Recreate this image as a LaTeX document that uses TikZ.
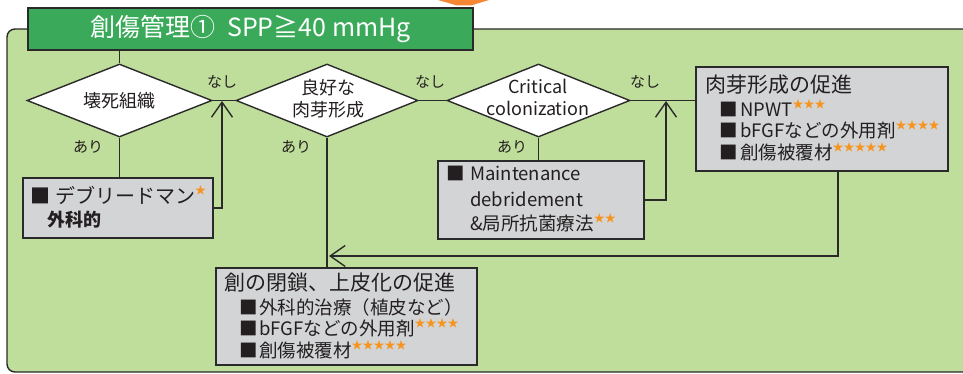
\documentclass[tikz,border=0pt]{standalone}
\usepackage{fontspec}
\setmainfont{Noto Sans CJK JP}
\usetikzlibrary{shapes.geometric,arrows.meta}
\definecolor{panelg}{HTML}{BFDD9B}
\definecolor{titleg}{HTML}{3AAA5A}
\definecolor{boxg}{HTML}{D3D4D6}
\definecolor{linec}{HTML}{2A2A2A}
\definecolor{txt}{HTML}{231F20}
\definecolor{starc}{HTML}{F7941D}
\definecolor{topor}{HTML}{F58634}
\newcommand\mystars[1]{\raisebox{0.45em}{\fontsize{11}{11}\selectfont\color{starc}#1}}
\newcommand\sq[1]{\makebox[#1][l]{■}}
\begin{document}
\begin{tikzpicture}[x=1pt,y=-1pt,
  lbl/.style={font=\fontsize{15}{15}\selectfont, text=txt, inner sep=0},
  dia/.style={diamond, draw=linec, fill=white, line width=1.4pt, inner sep=0},
  dtext/.style={inner sep=0, align=center, font=\fontsize{18}{22}\selectfont, text=txt},
  box/.style={draw=linec, fill=boxg, line width=1.4pt, inner sep=0},
  conn/.style={draw=linec, line width=1.4pt},
  arr/.style={conn, -{Straight Barb[length=15pt,width=21pt,line width=1.4pt]}},
  tl/.style={anchor=west, inner sep=0, text=txt},
  big/.style={font=\fontsize{21}{21}\selectfont},
  mid/.style={font=\fontsize{18.5}{18.5}\selectfont}
]
\useasboundingbox (0,0) rectangle (963,374);
\clip (0,0) rectangle (963,374);
% orange tip at top
\fill[topor] (438,0) -- (489,0) -- (471,5.5) -- (457,5.5) -- cycle;
% panel
\draw[fill=panelg, draw=linec, line width=1.4pt, rounded corners=8pt] (7,29) rectangle (990,372);
% title
\node[draw=linec, fill=titleg, line width=1.4pt, minimum width=445pt, minimum height=42pt, inner sep=0, text=white, font=\fontsize{25}{25}\selectfont] (t) at (250.5,29) {創傷管理①\hspace{12pt}SPP≧40 mmHg};
% diamonds
\node[dia, minimum width=185pt, minimum height=73pt] (d1) at (119.5,100.5) {};
\node[dia, minimum width=182pt, minimum height=73pt] (d2) at (327,100.5) {};
\node[dia, minimum width=183pt, minimum height=73pt] (d3) at (538.5,100.5) {};
\node[dtext] (d1t) at (d1.center) {壊死組織};
\node[dtext] (d2t) at (328,99) {良好な\\肉芽形成};
\node[dtext] (d3t) at (538,97) {Critical\\colonization};
% boxes
\node[box, minimum width=190pt, minimum height=60pt] (deb) at (118,208) {};
\node[box, minimum width=206pt, minimum height=78pt] (mb) at (541,200) {};
\node[box, minimum width=252pt, minimum height=104pt] (rb) at (822,119) {};
\node[box, minimum width=261pt, minimum height=97pt] (cl) at (346.5,316.5) {};
% junctions
\coordinate (j1) at (222,101);
\coordinate (j2) at (666,101);
\coordinate (j3) at (329,256);
% connectors
\draw[conn] (d1.north |- t.south) -- (d1.north);
\draw[conn] (d1.east) -- (d2.west);
\draw[conn] (d2.east) -- (d3.west);
\draw[conn] (d3.east) -- (rb.west |- d3.east);
\draw[conn] (d1.south) -- (d1.south |- deb.north);
\draw[conn] (d2.south) -- (d2.south |- cl.north);
\draw[conn] (d3.south) -- (d3.south |- mb.north);
\draw[arr] (deb.east) -| (j1);
\draw[arr] (mb.east) -| (j2);
\draw[arr] ([xshift=16pt]rb.south) |- (j3);
% labels
\node[lbl] (n1) at (222,82) {なし};
\node[lbl] (n2) at (430,82) {なし};
\node[lbl] (n3) at (645,82) {なし};
\node[lbl] (a1) at (88,147) {あり};
\node[lbl] (a2) at (296,147) {あり};
\node[lbl] (a3) at (512,147) {あり};
% debridement text
\node[tl, font=\fontsize{20}{20}\selectfont] (deb1) at (30,195) {\sq{25pt}デブリードマン\mystars{★}};
\node[tl, font=\fontsize{18}{18}\selectfont\bfseries] (deb2) at (47,220) {外科的};
% maintenance text
\node[tl, mid] (mb1) at (446,173) {\sq{24pt}Maintenance};
\node[tl, mid] (mb2) at (470,199) {debridement};
\node[tl, mid] (mb3) at (470,223) {\&局所抗菌療法\mystars{★★}};
% right box text
\node[tl, big] (rb0) at (705,85) {肉芽形成の促進};
\node[tl, mid] (rb1) at (719,108) {\sq{21pt}NPWT\mystars{★★★}};
\node[tl, mid] (rb2) at (719,130) {\sq{21pt}bFGFなどの外用剤\mystars{★★★★}};
\node[tl, mid] (rb3) at (719,152) {\sq{21pt}創傷被覆材\mystars{★★★★★}};
% closure box text
\node[tl, big] (cl0) at (224,283) {創の閉鎖、上皮化の促進};
\node[tl, mid] (cl1) at (239,307) {\sq{20pt}外科的治療（植皮など）};
\node[tl, mid] (cl2) at (239,328) {\sq{20pt}bFGFなどの外用剤\mystars{★★★★}};
\node[tl, mid] (cl3) at (239,350) {\sq{20pt}創傷被覆材\mystars{★★★★★}};
\end{tikzpicture}
\end{document}
